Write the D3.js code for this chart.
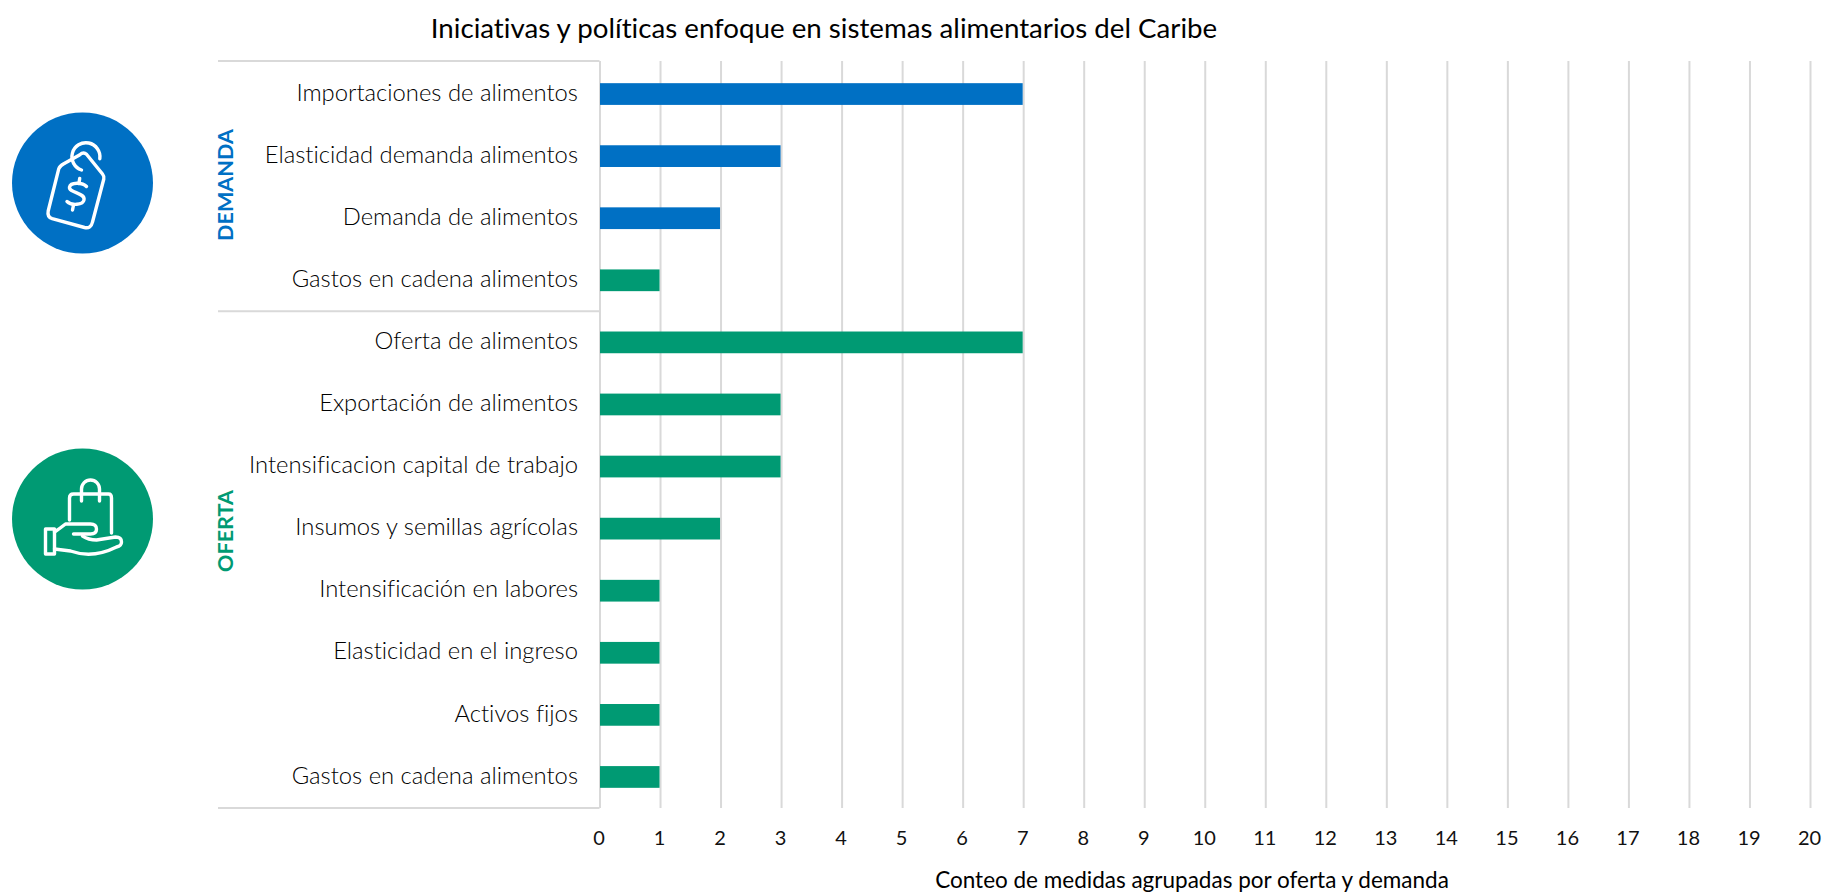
<!DOCTYPE html>
<html lang="es">
<head>
<meta charset="utf-8">
<title>Iniciativas y políticas</title>
<script src="https://cdn.jsdelivr.net/npm/d3@7"></script>
<style>
  html, body { margin: 0; padding: 0; background: #fff; overflow: hidden; }
  svg { display: block; }
  text { font-family: Lato, "Open Sans", sans-serif; fill: #000; font-variant-ligatures: none; }
</style>
</head>
<body>
<svg id="board" width="1824" height="894"></svg>
<script>
// Chart data
let labels = [
    'Importaciones de alimentos',
    'Elasticidad demanda alimentos',
    'Demanda de alimentos',
    'Gastos en cadena alimentos',
    'Oferta de alimentos',
    'Exportación de alimentos',
    'Intensificacion capital de trabajo',
    'Insumos y semillas agrícolas',
    'Intensificación en labores',
    'Elasticidad en el ingreso',
    'Activos fijos',
    'Gastos en cadena alimentos'
]
let values = [7, 3, 2, 1, 7, 3, 3, 2, 1, 1, 1, 1]
let barKinds = ['d', 'd', 'd', 'o', 'o', 'o', 'o', 'o', 'o', 'o', 'o', 'o']
let groupNames = ['DEMANDA', 'OFERTA']
let xTicks = d3.range(0, 21)

let blue = '#0070c4'
let green = '#009a73'
let lineColor = '#d9d9d9'

let board = d3.select('#board')

let xScale = d3.scaleLinear().domain([0, 20]).range([599.5, 1810])
let yScale = d3.scaleBand().domain(d3.range(labels.length)).range([63, 808]).paddingInner(0.65).paddingOuter(0.325)

// Gridlines come from the axis ticks
let xAxis = d3.axisBottom(xScale).tickValues(xTicks).tickSize(747).tickPadding(23).tickFormat(d3.format('d'))
let axisGroup = board.append('g')
    .attr('transform', 'translate(0, 61)')
    .call(xAxis)
axisGroup.select('.domain').remove()
axisGroup.selectAll('line').attr('stroke', lineColor).attr('stroke-width', 2)
axisGroup.selectAll('text')
    .attr('font-size', 20)
    .attr('dx', -1)
    .style('fill', '#111')
    .style('font-family', 'Lato, sans-serif')

// Bracket lines around the category labels
let bracketLeft = 218
let bracketRight = xScale(0)
let bracketYs = [61, yScale.step() * 4 + 63, 808]
board.selectAll('.bracket')
    .data(bracketYs)
    .enter()
    .append('line')
    .attr('class', 'bracket')
    .attr('x1', bracketLeft)
    .attr('x2', bracketRight)
    .attr('y1', (d) => d)
    .attr('y2', (d) => d)
    .attr('stroke', lineColor)
    .attr('stroke-width', 2)

// Bars
board.selectAll('.bar')
    .data(values)
    .enter()
    .append('rect')
    .attr('class', 'bar')
    .attr('x', xScale(0) + 0.5)
    .attr('y', (d, i) => yScale(i))
    .attr('width', (d) => xScale(d) - xScale(0) - 1)
    .attr('height', yScale.bandwidth())
    .attr('fill', (d, i) => barKinds[i] === 'd' ? blue : green)

// Category labels
board.selectAll('.label')
    .data(labels)
    .enter()
    .append('text')
    .attr('class', 'label')
    .attr('x', 578)
    .attr('y', (d, i) => yScale(i) + yScale.bandwidth() / 2)
    .attr('dy', '0.28em')
    .attr('text-anchor', 'end')
    .attr('font-size', 23.8)
    .style('font-weight', 300)
    .text((d) => d)

// Title and x axis title
board.append('text')
    .attr('x', 824)
    .attr('y', 38)
    .attr('text-anchor', 'middle')
    .attr('font-size', 27.7)
    .text('Iniciativas y políticas enfoque en sistemas alimentarios del Caribe')

board.append('text')
    .attr('x', 1192)
    .attr('y', 888)
    .attr('text-anchor', 'middle')
    .attr('font-size', 22.5)
    .text('Conteo de medidas agrupadas por oferta y demanda')

// Rotated group names
let groupCenters = [185, 531]
let groupColors = [blue, green]
board.selectAll('.group')
    .data(groupNames)
    .enter()
    .append('text')
    .attr('class', 'group')
    .attr('transform', (d, i) => 'translate(233, ' + groupCenters[i] + ') rotate(-90)')
    .attr('text-anchor', 'middle')
    .attr('font-size', 21.6)
    .style('font-weight', 700)
    .style('fill', (d, i) => groupColors[i])
    .text((d) => d)

// Round icons
let iconStyle = (g) => g.attr('fill', 'none')
    .attr('stroke', '#fff')
    .attr('stroke-width', 3.4)
    .attr('stroke-linecap', 'round')
    .attr('stroke-linejoin', 'round')

let tagIcon = board.append('g').attr('transform', 'translate(82.5, 183)')
tagIcon.append('circle').attr('r', 70.5).attr('fill', blue)
tagIcon.append('g').call(iconStyle)
    .selectAll('path')
    .data([
        'M4,-28.7 L20,-9 Q22,-6.5 21.3,-4 L10,39 Q8.5,46 2,44.5 L-30.3,35.7 Q-35.5,34 -34.3,28 L-23.7,-14.3 Q-22.8,-17 -18.7,-19.3 L-3,-28 Q1,-31.5 4,-28.7 Z',
        'M-1,-13 A14,14 0 1 1 17.3,-24.3',
        'M4,3.5 C0,-1 -12,-1 -13,4 C-14,10 3,9.5 1.5,17 C0.5,22 -11,23 -15.5,18.5',
        'M-2.8,-4.5 L-3.6,0.5 M-9,22 L-10,27'
    ])
    .enter()
    .append('path')
    .attr('d', (d) => d)

let bagIcon = board.append('g').attr('transform', 'translate(82.5, 519)')
bagIcon.append('circle').attr('r', 70.5).attr('fill', green)
bagIcon.append('g').call(iconStyle)
    .selectAll('path')
    .data([
        'M-13,1 L-13,-21 Q-13,-25 -9,-25 L26,-25 Q29,-25 29,-21 L29,14',
        'M-1,-18 L-1,-30 A9,9 0 0 1 17,-30 L17,-18',
        'M-37,10 L-28,10 L-28,35 L-37,35 Z',
        'M-28,13 Q-22,9 -17,5 Q-14,5 -13,5 L8,5 Q14,5 14,10 Q14,15 8,15 L-9,15',
        'M0,17 Q6,21 14,21 L33,18 Q39,18 39,23 Q39,27 34,28 Q10,40 -12,32 L-28,30'
    ])
    .enter()
    .append('path')
    .attr('d', (d) => d)
</script>
</body>
</html>
